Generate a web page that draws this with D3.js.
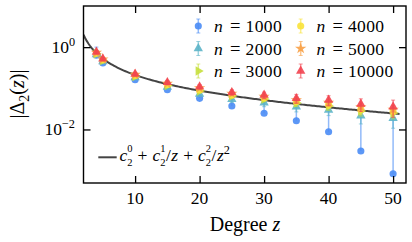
<!DOCTYPE html>
<html><head><meta charset="utf-8">
<script src="https://cdn.jsdelivr.net/npm/d3@7"></script>
<style>
body{margin:0;background:#fff}
svg{display:block}
</style>
</head><body>
<svg id="c" width="412" height="242"></svg>
<script>
// ---------------- data ----------------
const degrees = [4, 5, 10, 15, 20, 25, 30, 35, 40, 45, 50];
const seriesN = ["1000", "2000", "3000", "4000", "5000", "10000"];
const delta1000  = [0.634, 0.412, 0.162, 0.0925, 0.057, 0.0371, 0.0247, 0.0163, 0.00882, 0.0030, 0.00084];
const delta2000  = [0.663, 0.448, 0.183, 0.1075, 0.0727, 0.054, 0.0447, 0.0357, 0.0297, 0.0216, 0.0187];
const delta3000  = [0.693, 0.474, 0.1935, 0.117, 0.086, 0.065, 0.055, 0.0439, 0.0371, 0.0281, 0.0251];
const delta4000  = [0.713, 0.487, 0.2047, 0.1237, 0.0909, 0.0687, 0.0581, 0.0478, 0.0404, 0.0305, 0.0273];
const delta5000  = [0.737, 0.507, 0.214, 0.1308, 0.1017, 0.0747, 0.0632, 0.052, 0.0452, 0.0351, 0.0305];
const delta10000 = [0.762, 0.524, 0.2226, 0.1399, 0.1094, 0.0799, 0.0687, 0.0571, 0.052, 0.0415, 0.0357];
// error bars (upper / lower extents)
const errUp1000  = [0.37, 0.02, 0.012, 0.01, 0.016, 0.017, 0.02, 0.018, 0.021, 0.023, 0.018];
const errLo1000  = [0, 0, 0, 0, 0, 0, 0, 0, 0, 0, 0];
const err2000    = [0.06, 0.04, 0.02, 0.012, 0.01, 0.009, 0.009, 0.009, 0.008, 0.008, 0.008];
const err3000    = [0.05, 0.035, 0.016, 0.011, 0.009, 0.008, 0.008, 0.008, 0.008, 0.007, 0.007];
const err4000    = [0.05, 0.03, 0.015, 0.01, 0.009, 0.008, 0.008, 0.008, 0.008, 0.007, 0.007];
const err5000    = [0.05, 0.03, 0.015, 0.012, 0.01, 0.009, 0.009, 0.009, 0.009, 0.008, 0.008];
const err10000   = [0.06, 0.04, 0.02, 0.015, 0.013, 0.012, 0.012, 0.014, 0.014, 0.014, 0.016];
// fit c2^0 + c2^1/z + c2^2/z^2
const fitCoeffs = [-0.0132, 1.796, 4.46];
const fitRange = [2, 51];
const xTicks = [10, 20, 30, 40, 50];
const yTickExps = [0, -2];

// ---------------- setup ----------------
const colors = ["#4a8cf5", "#5cb4c8", "#c6df3c", "#f9e23a", "#f8a045", "#f2434f"];
const symbols = ["circle", "triUp", "triRight", "circle", "star", "triUp"];
const values = [delta1000, delta2000, delta3000, delta4000, delta5000, delta10000];
const ups = [errUp1000, err2000, err3000, err4000, err5000, err10000];
const los = [errLo1000, err2000, err3000, err4000, err5000, err10000];

const FONT = "'Liberation Serif', 'Times New Roman', serif";
const svg = d3.select("#c");
const L = 83.5, R = 406, T = 6, B = 183;
const x = d3.scaleLinear().domain([2, 52]).range([L, R]);
const y = d3.scaleLog().domain([5e-4, 10]).range([B, T]);
const FS = 17.5;

function sym(type) {
  if (type === "circle") return d3.symbol(d3.symbolCircle, 40)();
  if (type === "star") return d3.symbol(d3.symbolStar, 40)();
  return d3.symbol(d3.symbolTriangle, 38)();
}
function drawMarker(g, type, cx, cy, color) {
  const p = g.append("path").attr("d", sym(type)).attr("fill", color).attr("fill-opacity", 0.9);
  let tr = `translate(${cx},${cy})`;
  if (type === "triRight") tr += " rotate(90)";
  p.attr("transform", tr);
}
function txt(g) { return g.append("text").style("font-family", FONT).attr("fill", "#000"); }

// math-like text helper: one text element, absolutely positioned tspans
function mathText(g, x0, y0, pieces, size) {
  const t = txt(g).attr("font-size", size);
  let cx = x0;
  const span = (s, xx, yy, fs, it) => {
    const sp = t.append("tspan").attr("x", xx).attr("y", yy).attr("font-size", fs).text(s);
    if (it) sp.attr("font-style", "italic");
    return sp.node().getComputedTextLength();
  };
  pieces.forEach(p => {
    if (p.gap) { cx += p.gap; return; }
    if (p.sup !== undefined || p.sub !== undefined) {
      const stacked = p.sup !== undefined && p.sub !== undefined;
      const fs = size * (stacked ? 0.6 : 0.7);
      let w = 0;
      if (p.sup !== undefined) w = Math.max(w, span(p.sup, cx, y0 - size * (stacked ? 0.5 : 0.42), fs));
      if (p.sub !== undefined) w = Math.max(w, span(p.sub, cx, y0 + size * (stacked ? 0.3 : 0.25), fs));
      cx += w + (p.after || 0);
      return;
    }
    cx += span(p.s, cx, y0, size, p.it) + (p.after || 0);
  });
  return cx - x0;
}

// ---------------- fit curve ----------------
const fz = d3.range(fitRange[0], fitRange[1] + 0.001, 0.25);
const fitLine = d3.line().x(z => x(z)).y(z => y(fitCoeffs[0] + fitCoeffs[1] / z + fitCoeffs[2] / (z * z)));
svg.append("clipPath").attr("id", "pc").append("rect").attr("x", L).attr("y", T).attr("width", R - L).attr("height", B - T);
const plot = svg.append("g").attr("clip-path", "url(#pc)");
plot.append("path").attr("d", fitLine(fz)).attr("fill", "none").attr("stroke", "#444").attr("stroke-width", 2);

// ---------------- series ----------------
values.forEach((vals, si) => {
  const g = plot.append("g");
  degrees.forEach((z, i) => {
    const v = vals[i];
    const top = v + ups[si][i];
    const bot = Math.max(v - los[si][i], 1e-6);
    const cx = x(z);
    g.append("line").attr("x1", cx).attr("x2", cx).attr("y1", y(top)).attr("y2", y(bot))
      .attr("stroke", colors[si]).attr("stroke-opacity", 0.6).attr("stroke-width", 1.5);
    [top, bot].forEach(e => {
      if (e === v) return;
      g.append("line").attr("x1", cx - 2).attr("x2", cx + 2).attr("y1", y(e)).attr("y2", y(e))
        .attr("stroke", colors[si]).attr("stroke-opacity", 0.6).attr("stroke-width", 1);
    });
    drawMarker(g, symbols[si], cx, y(v), colors[si]);
  });
});

// ---------------- axes ----------------
const ax = svg.append("g");
ax.append("g").attr("transform", `translate(0,${B})`).call(d3.axisBottom(x).tickValues(xTicks).tickSize(-7).tickFormat(""));
ax.append("g").attr("transform", `translate(0,${T})`).call(d3.axisTop(x).tickValues(xTicks).tickSize(-7).tickFormat(""));
ax.append("g").attr("transform", `translate(${L},0)`).call(d3.axisLeft(y).tickValues(yTickExps.map(e => Math.pow(10, e))).tickSize(-7).tickFormat(""));
ax.append("g").attr("transform", `translate(${R},0)`).call(d3.axisRight(y).tickValues(yTickExps.map(e => Math.pow(10, e))).tickSize(-7).tickFormat(""));
ax.selectAll(".domain").remove();
ax.selectAll(".tick line").attr("stroke", "#000").attr("stroke-width", 1.3);
svg.append("rect").attr("x", L).attr("y", T).attr("width", R - L).attr("height", B - T)
  .attr("fill", "none").attr("stroke", "#000").attr("stroke-width", 1.4);

// tick labels
xTicks.forEach(t => {
  txt(svg).attr("x", x(t)).attr("y", 204).attr("text-anchor", "middle").attr("font-size", FS).text(t);
});
yTickExps.forEach(e => {
  const g = svg.append("g");
  const yy = y(Math.pow(10, e)) + 6;
  const w = mathText(g, 0, yy, [{s: "10"}, {sup: e < 0 ? "\u2212" + (-e) : String(e)}], FS);
  g.attr("transform", `translate(${75 - w},0)`);
});

// axis titles
const xl = svg.append("g");
const xw = mathText(xl, 0, 231, [{s: "Degree"}, {gap: 5}, {s: "z", it: true}], 20);
xl.attr("transform", `translate(${245 - xw / 2},0)`);

const yl = svg.append("g");
const yw = mathText(yl, 0, 0, [{s: "|\u0394"}, {sub: "2"}, {s: "("}, {s: "z", it: true}, {s: ")|"}], 20);
yl.attr("transform", `translate(24,${94 + yw / 2}) rotate(-90)`);

// ---------------- legends ----------------
const legCols = [198.3, 300.7];
const legRows = [26, 48.5, 71];
seriesN.forEach((n, si) => {
  const col = Math.floor(si / 3), row = si % 3;
  const cx = legCols[col], cy = legRows[row];
  const g = svg.append("g");
  g.append("line").attr("x1", cx).attr("x2", cx).attr("y1", cy - 7).attr("y2", cy + 7)
    .attr("stroke", colors[si]).attr("stroke-opacity", 0.6).attr("stroke-width", 1.5);
  [cy - 7, cy + 7].forEach(e => g.append("line").attr("x1", cx - 2).attr("x2", cx + 2).attr("y1", e).attr("y2", e)
    .attr("stroke", colors[si]).attr("stroke-opacity", 0.6).attr("stroke-width", 1));
  drawMarker(g, symbols[si], cx, cy, colors[si]);
  const tx = cx + 15.7, ty = cy + 6;
  txt(g).attr("x", tx).attr("y", ty).attr("font-size", FS).attr("font-style", "italic").text("n");
  txt(g).attr("x", tx + 16).attr("y", ty).attr("font-size", FS + 1).text("=");
  txt(g).attr("x", tx + 31.5).attr("y", ty).attr("font-size", FS).attr("letter-spacing", 0.4).text(n);
});

const lg = svg.append("g");
lg.append("line").attr("x1", 98.3).attr("x2", 116.7).attr("y1", 157.3).attr("y2", 157.3).attr("stroke", "#444").attr("stroke-width", 2);
mathText(lg, 119.5, 161, [
  {s: "c", it: true}, {sup: "0", sub: "2", after: 5}, {s: "+", after: 5},
  {s: "c", it: true}, {sup: "1", sub: "2", after: 0.5}, {s: "/", after: 0.5}, {s: "z", it: true, after: 5}, {s: "+", after: 5},
  {s: "c", it: true}, {sup: "2", sub: "2", after: 0.5}, {s: "/", after: 0.5}, {s: "z", it: true}, {sup: "2"}
], 17.5);
</script>
</body></html>
